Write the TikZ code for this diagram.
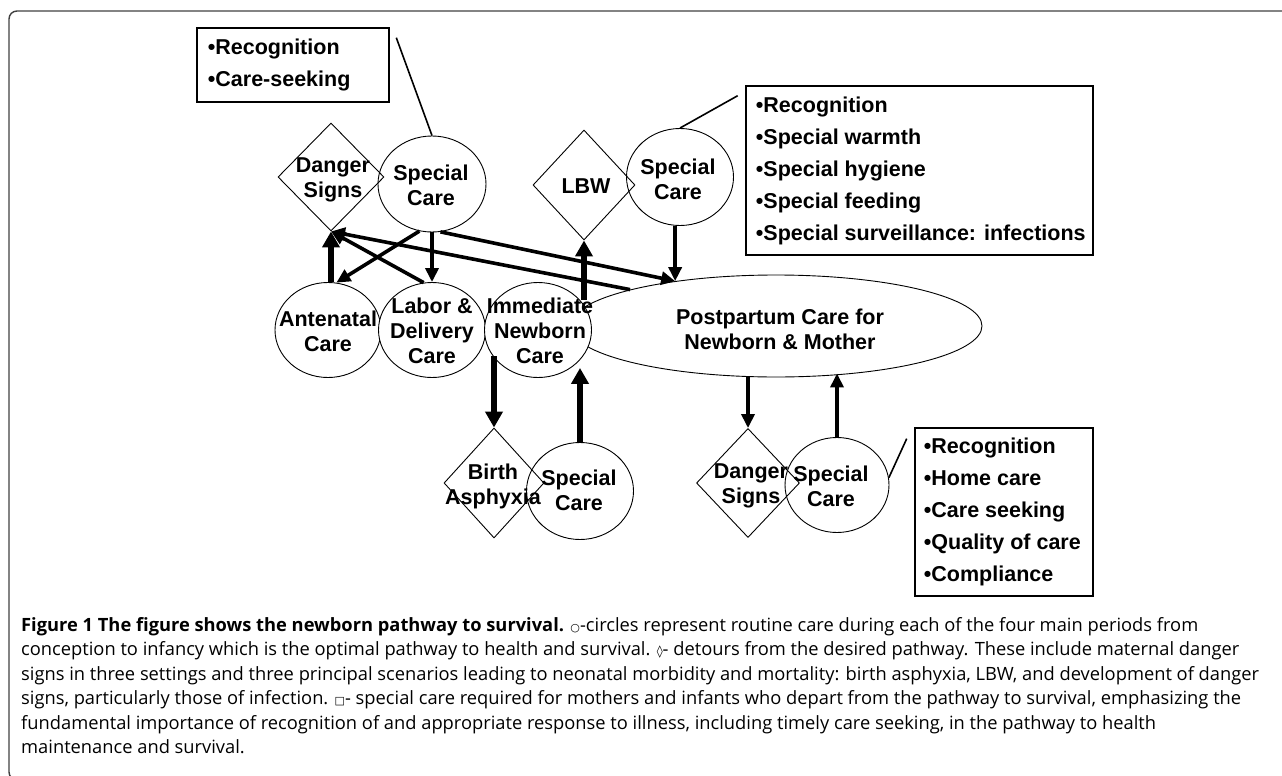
\documentclass[tikz,border=0pt]{standalone}
\usepackage{fontspec}
\setmainfont{Open Sans}
\newfontfamily\diagfont{Liberation Sans}
\newfontfamily\symfont{DejaVu Sans}
\usetikzlibrary{arrows.meta, shapes.geometric, positioning, calc}

\begin{document}
\begin{tikzpicture}[x=1pt, y=-1pt,
    diagfnt/.style={font=\diagfont\bfseries\fontsize{21.5}{25}\selectfont},
    routine/.style={ellipse, draw, line width=0.9pt, fill=white, inner sep=0pt},
    detour/.style={diamond, draw, line width=0.9pt, inner sep=0pt},
    caretext/.style={diagfnt, align=center, inner sep=0pt},
    carebox/.style={rectangle, draw, line width=2.6pt, inner sep=0pt},
    boxtext/.style={anchor=west, inner sep=0pt, align=left,
      font=\diagfont\bfseries\fontsize{21.5}{32}\selectfont},
    bigarr/.style={line width=6pt, -{Triangle[length=16pt, width=17pt]}},
    midarr/.style={line width=3.6pt, -{Triangle[length=14pt, width=13pt]}},
    link/.style={line width=1.6pt}]
    \useasboundingbox (0,0) rectangle (1282,776);
    %\draw[step=50, gray!30, very thin] (0,0) grid (1282,776);

    \draw[line width=1.4pt, black!75, rounded corners=8pt] (1300,11) -- (9,11) -- (9,780) -- (60,780);

    % routine care: postpartum first, the circles cover it
    \node[routine, minimum width=412pt, minimum height=102pt] (postpartum) at (776,326) {};
    \node[routine, minimum width=106pt, minimum height=95pt] (antenatal) at (328,330) {};
    \node[routine, minimum width=107pt, minimum height=95pt] (labor) at (432,330) {};
    \node[routine, minimum width=107pt, minimum height=95pt] (immediate) at (538,330) {};

    % special care
    \node[routine, minimum width=108pt, minimum height=96pt] (scA) at (432,184) {};
    \node[routine, minimum width=107pt, minimum height=97pt] (scB) at (680,177) {};
    \node[routine, minimum width=107pt, minimum height=97pt] (scC) at (580,491) {};
    \node[routine, minimum width=104pt, minimum height=95pt] (scD) at (837,485) {};

    % detours
    \node[detour, minimum width=106pt, minimum height=108pt] (dangerA) at (331,177) {};
    \node[detour, minimum width=102pt, minimum height=110pt] (lbw) at (584,185) {};
    \node[detour, minimum width=100pt, minimum height=110pt] (birth) at (494,483) {};
    \node[detour, minimum width=103pt, minimum height=109pt] (dangerB) at (748,483) {};

    % labels
    \node[caretext] (tPostpartum) at (780,329) {Postpartum Care for\\Newborn \& Mother};
    \node[caretext] (tAntenatal) at (328,331) {Antenatal\\Care};
    \node[caretext] (tLabor) at (432,331) {Labor \&\\Delivery\\Care};
    \node[caretext] (tImmediate) at (540,331) {Immediate\\Newborn\\Care};
    \node[caretext] (tScA) at (431,185) {Special\\Care};
    \node[caretext] (tScB) at (678,179) {Special\\Care};
    \node[caretext] (tScC) at (579,490) {Special\\Care};
    \node[caretext] (tScD) at (831,486) {Special\\Care};
    \node[caretext] (tDangerA) at (333,180) {Danger\\Signs};
    \node[caretext] (tLbw) at (586,186) {LBW};
    \node[caretext] (tBirth) at (493,486) {Birth\\Asphyxia};
    \node[caretext] (tDangerB) at (751,486) {Danger\\Signs};

    % what special care means
    \node[carebox, minimum width=192pt, minimum height=74pt] (careA) at (293,65) {};
    \node[boxtext] (careAtext) at ([xshift=12pt]careA.west) {•Recognition\\•Care-seeking};
    \node[carebox, minimum width=347pt, minimum height=169pt] (careB) at (919.5,170.5) {};
    \node[boxtext] (careBtext) at ([xshift=11pt]careB.west)
      {•Recognition\\•Special warmth\\•Special hygiene\\•Special feeding\\•Special surveillance: infections};
    \node[carebox, minimum width=178pt, minimum height=168pt] (careC) at (1004,512) {};
    \node[boxtext] (careCtext) at ([xshift=10pt]careC.west)
      {•Recognition\\•Home care\\•Care seeking\\•Quality of care\\•Compliance};

    \draw[link] ([xshift=6pt, yshift=-11pt]careA.north east) -- (scA.north);
    \draw[link] ([xshift=-7pt, yshift=-11pt]careB.north west) -- (scB.north);
    \draw[link] (scD.8) -- ([xshift=-7pt, yshift=-12pt]careC.north west);

    % pathway arrows
    \draw[bigarr] (antenatal.north -| dangerA.south) -- (dangerA.south);
    \draw[bigarr] (lbw.south |- immediate.35) -- (lbw.south);
    \draw[bigarr] (birth.north |- immediate.210) -- (birth.north);
    \draw[bigarr] (scC.north) -- ([yshift=10pt]scC.north |- immediate.south);
    \draw[midarr] (scA.255) -- (antenatal.80);
    \draw[midarr] (scA.south) -- (labor.north);
    \draw[midarr] (labor.100) -- (dangerA.south);
    \draw[midarr] (postpartum.166) -- (dangerA.south);
    \draw[midarr] (scA.280) -- (postpartum.156);
    \draw[midarr] (postpartum.156 |- scB.south) -- (postpartum.156);
    \draw[midarr] (dangerB.north |- postpartum.south) -- (dangerB.north);
    \draw[midarr] (scD.north) -- ([yshift=4pt]scD.north |- postpartum.south);

    \node[anchor=north west, inner sep=0pt, align=left, font=\fontsize{18.3}{24.5}\selectfont] (caption) at (21,617)
      {\textbf{Figure 1 The figure shows the newborn pathway to survival.} {\symfont\fontsize{11}{11}\selectfont ○}-circles represent routine care during each of the four main periods from\\
       conception to infancy which is the optimal pathway to health and survival. {\symfont\fontsize{12}{12}\selectfont ◊}- detours from the desired pathway. These include maternal danger\\
       signs in three settings and three principal scenarios leading to neonatal morbidity and mortality: birth asphyxia, LBW, and development of danger\\
       signs, particularly those of infection. {\symfont\fontsize{11}{11}\selectfont □}- special care required for mothers and infants who depart from the pathway to survival, emphasizing the\\
       fundamental importance of recognition of and appropriate response to illness, including timely care seeking, in the pathway to health\\
       maintenance and survival.};
\end{tikzpicture}
\end{document}
